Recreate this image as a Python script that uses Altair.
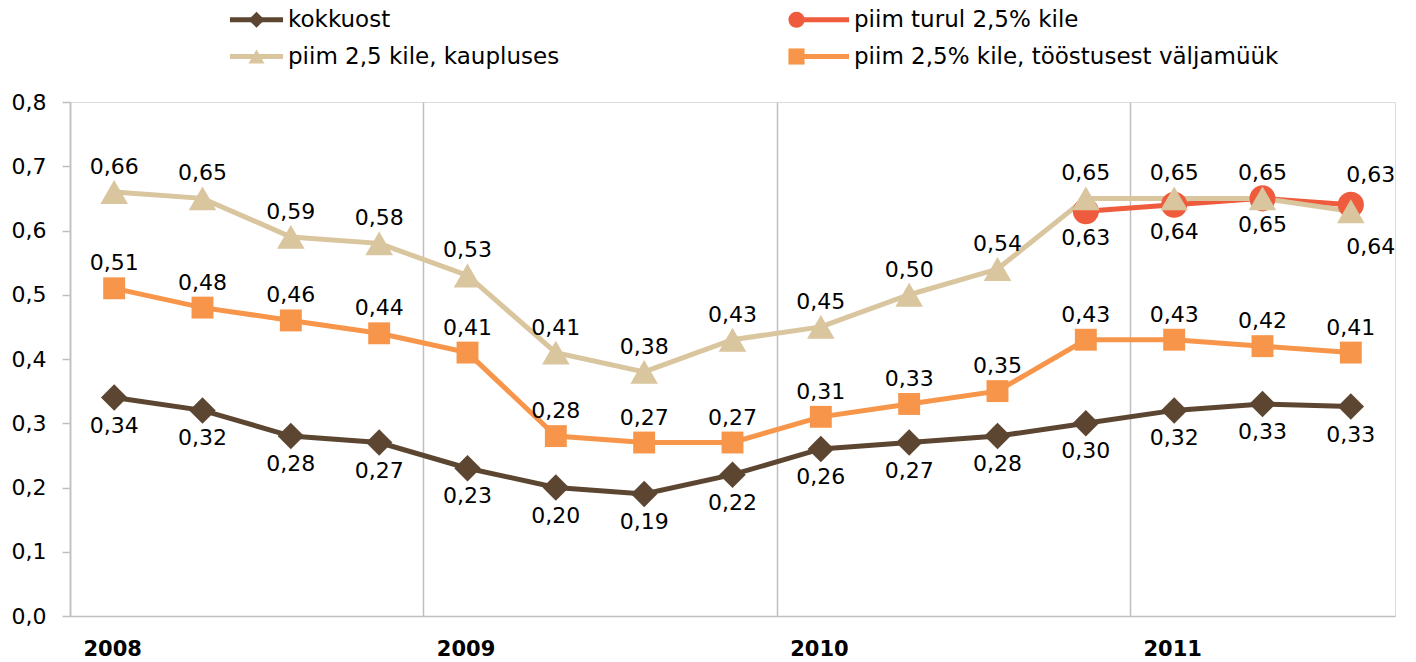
import altair as alt
import pandas as pd

years = ["2008", "2009", "2010", "2011"]
series_names = [
    "kokkuost",
    "piim 2,5 kile, kaupluses",
    "piim turul 2,5% kile",
    "piim 2,5% kile, tööstusest väljamüük",
]
colors = ["#5C4631", "#D9C59E", "#EF5B3D", "#F7964A"]
shapes = ["diamond", "triangle-up", "circle", "square"]
marker_sizes = {"kokkuost": 700, "piim 2,5 kile, kaupluses": 760,
                "piim turul 2,5% kile": 680, "piim 2,5% kile, tööstusest väljamüük": 480}

kokkuost = [0.34, 0.32, 0.28, 0.27, 0.23, 0.20, 0.19, 0.22, 0.26, 0.27, 0.28, 0.30, 0.32, 0.33, 0.326]
turul = [None] * 11 + [0.63, 0.64, 0.65, 0.64]
kaupluses = [0.66, 0.65, 0.59, 0.58, 0.53, 0.41, 0.38, 0.43, 0.45, 0.50, 0.54, 0.65, 0.65, 0.65, 0.63]
toostusest = [0.51, 0.48, 0.46, 0.44, 0.41, 0.28, 0.27, 0.27, 0.31, 0.33, 0.35, 0.43, 0.43, 0.42, 0.41]

series_values = [
    ("kokkuost", kokkuost),
    ("piim 2,5% kile, tööstusest väljamüük", toostusest),
    ("piim turul 2,5% kile", turul),
    ("piim 2,5 kile, kaupluses", kaupluses),
]

rows = []
for order, (name, vals) in enumerate(series_values):
    for i, v in enumerate(vals):
        if v is None:
            continue
        rows.append({"i": i, "v": v, "s": name, "s2": name, "ord": order})
df = pd.DataFrame(rows)

FONT = "DejaVu Sans"
base = alt.Chart(df)

x_enc = alt.X("i:Q", scale=alt.Scale(domain=[-0.5, 14.5], nice=False, zero=False),
              axis=alt.Axis(values=[-0.5, 3.5, 7.5, 11.5], title=None,
                            labelExpr="['2008','2009','2010','2011'][round((datum.value+0.5)/4)]",
                            labelAlign="left", labelOffset=13, labelFontWeight="bold",
                            labelFontSize=21, labelPadding=22, ticks=False, labelFont=FONT,
                            grid=True, gridColor="#BFBFBF", gridWidth=1.5,
                            domainColor="#BFBFBF", domainWidth=1.5, labelColor="#000"))
y_enc = alt.Y("v:Q", scale=alt.Scale(domain=[0, 0.8], nice=False),
              axis=alt.Axis(values=[0, 0.1, 0.2, 0.3, 0.4, 0.5, 0.6, 0.7, 0.8], title=None,
                            labelExpr="replace(format(datum.value, '.1f'), '.', ',')",
                            labelFontSize=22, labelPadding=16, tickSize=8, labelFont=FONT,
                            tickColor="#BFBFBF", tickWidth=1.5, grid=False,
                            domainColor="#BFBFBF", domainWidth=1.5, labelColor="#000"))

leg_common = dict(title=None, orient="none", legendX=175, legendY=-94, columns=2,
                  labelFontSize=23, labelFont=FONT, labelOffset=20, columnPadding=225,
                  rowPadding=13, labelLimit=600, symbolSize=260)

lines = base.mark_line(strokeWidth=5).encode(
    x=x_enc, y=y_enc,
    color=alt.Color("s:N", scale=alt.Scale(domain=series_names, range=colors),
                    legend=alt.Legend(symbolType="M-3.29,0H3.29", symbolStrokeWidth=5,
                                      labelColor="#000", **leg_common)),
    order="ord:Q",
)

point_color = alt.Color("s2:N", scale=alt.Scale(domain=series_names, range=colors),
                        legend=alt.Legend(labelOpacity=0, symbolOpacity=1, symbolStrokeWidth=0,
                                          **leg_common))
point_shape = alt.Shape("s2:N", scale=alt.Scale(domain=series_names, range=shapes))

point_layers = []
for name, _vals in series_values:
    point_layers.append(
        base.transform_filter(alt.datum.s == name)
        .mark_point(filled=True, opacity=1, size=marker_sizes[name])
        .encode(x="i:Q", y="v:Q", color=point_color, shape=point_shape)
    )


def label_layer(filter_expr, dx, dy):
    return base.transform_filter(filter_expr).transform_calculate(
        lab="replace(format(datum.v, '.2f'), '.', ',')"
    ).mark_text(fontSize=22, font=FONT, color="#000", baseline="middle", dx=dx, dy=dy).encode(
        x="i:Q", y="v:Q", text="lab:N",
    )


lab_kok = label_layer("datum.s == 'kokkuost'", 0, 28)
lab_too = label_layer("datum.s == 'piim 2,5% kile, tööstusest väljamüük'", 0, -25)
lab_kau = label_layer("datum.s == 'piim 2,5 kile, kaupluses' && datum.i < 14", 0, -25)
lab_kau_last = label_layer("datum.s == 'piim 2,5 kile, kaupluses' && datum.i == 14", 20, -36)
lab_tur = label_layer("datum.s == 'piim turul 2,5% kile' && datum.i < 14", 0, 27)
lab_tur_last = label_layer("datum.s == 'piim turul 2,5% kile' && datum.i == 14", 20, 42)

points = alt.layer(*point_layers)

chart = alt.layer(
    lines, points, lab_kok, lab_too, lab_kau, lab_kau_last, lab_tur, lab_tur_last
).resolve_scale(
    color="independent", shape="independent"
).properties(
    width=1325, height=514,
    padding={"left": 3, "top": 0, "right": 5, "bottom": 0},
).configure_view(
    stroke="#BFBFBF", strokeWidth=1.5
).configure(
    font=FONT
)

chart.save("out.html", embed_options={"renderer": "svg", "actions": False})
